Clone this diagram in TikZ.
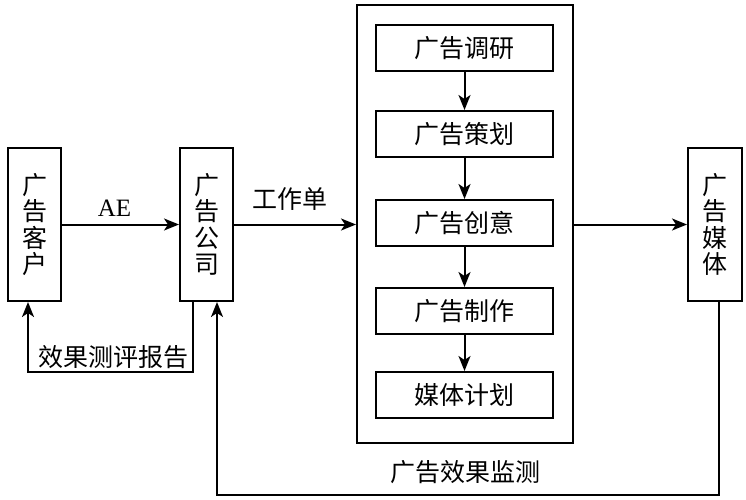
\documentclass[tikz,border=0pt]{standalone}
\usepackage{fontspec}
\setmainfont{Liberation Serif}
\newfontfamily\cjk{Noto Sans CJK SC}
\usetikzlibrary{arrows.meta}
\begin{document}
\begin{tikzpicture}[x=1pt,y=-1pt,
  every node/.style={inner sep=0pt, font=\cjk\fontsize{25}{26.5}\selectfont},
  box/.style={draw, line width=2pt, align=center},
  vbox/.style={box, minimum width=53pt, minimum height=153pt},
  ibox/.style={box, minimum width=177pt, minimum height=46pt},
  arr/.style={line width=2pt, -{Stealth[length=15pt,width=12pt,inset=4pt]}},
  ln/.style={line width=2pt}]
\useasboundingbox (0,0) rectangle (746,500);
\node[vbox] (client) at (34.5,224.5) {广\\告\\客\\户};
\node[vbox] (company) at (206.5,224.5) {广\\告\\公\\司};
\node[vbox, minimum width=54pt] (media) at (715,224.5) {广\\告\\媒\\体};
\node[box, minimum width=216pt, minimum height=438pt] (big) at (465,224) {};
\node[ibox] (b1) at (464.5,48) {广告调研};
\node[ibox] (b2) at (464.5,134) {广告策划};
\node[ibox] (b3) at (464.5,223) {广告创意};
\node[ibox] (b4) at (464.5,311) {广告制作};
\node[ibox] (b5) at (464.5,395) {媒体计划};
\draw[arr] (b1) -- (b2);
\draw[arr] (b2) -- (b3);
\draw[arr] (b3) -- (b4);
\draw[arr] (b4) -- (b5);
\draw[arr] (client.east) -- (company.west);
\draw[arr] (company.east) -- (big.west |- company.east);
\draw[arr] (big.east |- media.west) -- (media.west);
\draw[arr] ([xshift=-13.5pt]company.south) -- ++(0,70) -| ([xshift=-6.5pt]client.south);
\draw[arr] ([xshift=4pt]media.south) -- ++(0,193) -| ([xshift=10.5pt]company.south);
\node[font=\rmfamily\fontsize{25}{26}\selectfont] (ae) at (114.5,208.5) {AE};
\node (wo) at (290,199) {工作单};
\node (rep) at (113,357) {效果测评报告};
\node (mon) at (465,472) {广告效果监测};
\end{tikzpicture}
\end{document}
